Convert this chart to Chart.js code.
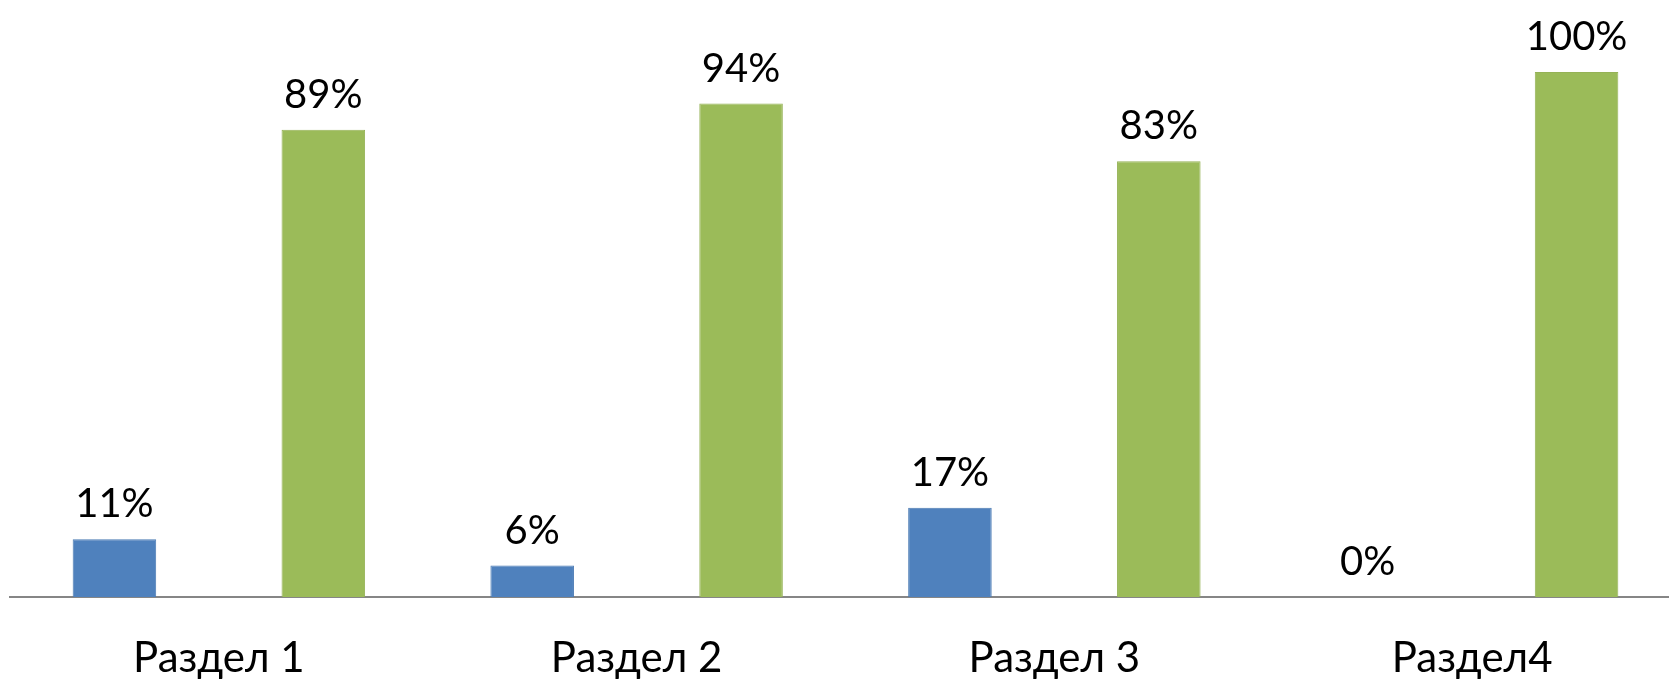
<!DOCTYPE html>
<html><head><meta charset="utf-8">
<script src="https://cdn.jsdelivr.net/npm/chart.js@4/dist/chart.umd.min.js"></script>
<style>html,body{margin:0;padding:0;background:#fff;overflow:hidden}#w{width:1681px;height:684px}</style>
</head><body><div id="w"><canvas id="c"></canvas></div>
<script>
const categories = ["Раздел 1", "Раздел 2", "Раздел 3", "Раздел4"];
const seriesA = [11, 6, 17, 0];
const seriesB = [89, 94, 83, 100];
const FONT = "Lato";

const valueLabels = {
  id: 'valueLabels',
  afterDatasetsDraw(chart) {
    const ctx = chart.ctx;
    ctx.save();
    ctx.font = '40px ' + FONT;
    ctx.fillStyle = '#000';
    ctx.textAlign = 'center';
    ctx.textBaseline = 'alphabetic';
    chart.data.datasets.forEach((ds, i) => {
      chart.getDatasetMeta(i).data.forEach((bar, j) => {
        ctx.fillText(ds.data[j] + '%', bar.x, bar.y - 22);
      });
    });
    ctx.restore();
  }
};

new Chart(document.getElementById('c'), {
  type: 'bar',
  data: {
    labels: categories,
    datasets: [
      {data: seriesA, backgroundColor: '#4F81BD', borderColor: '#4A7AB3', borderWidth: 1, categoryPercentage: 1.0, barPercentage: 0.4},
      {data: seriesB, backgroundColor: '#9BBB59', borderColor: '#95B256', borderWidth: 1, categoryPercentage: 1.0, barPercentage: 0.4}
    ]
  },
  options: {
    responsive: true, maintainAspectRatio: false, animation: false,
    layout: {padding: {top: 72, left: 10, right: 0, bottom: 0}},
    plugins: {legend: {display: false}, tooltip: {enabled: false}},
    scales: {
      x: {
        grid: {display: false, drawTicks: false},
        border: {display: true, color: '#868686', width: 2},
        ticks: {color: '#000', font: {family: FONT, size: 42}, padding: 36, maxRotation: 0},
        afterFit(scale) { scale.height = 87; }
      },
      y: {display: false, min: 0, max: 100}
    }
  },
  plugins: [valueLabels]
});
</script></body></html>
